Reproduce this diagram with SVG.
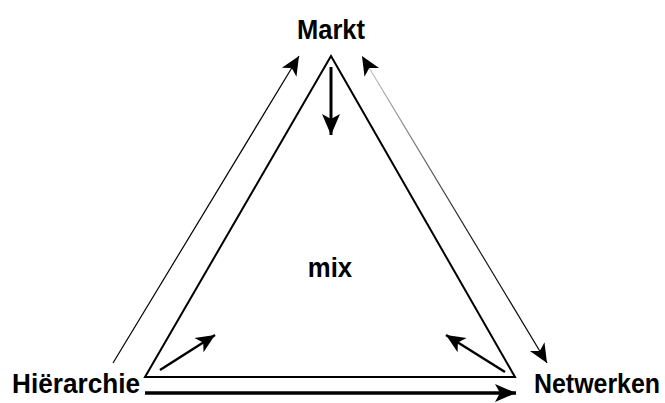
<svg xmlns="http://www.w3.org/2000/svg" width="665" height="403" viewBox="0 0 665 403">
<style>
.lbl{font-family:"Liberation Sans",Arial,sans-serif;font-weight:bold;font-size:28px;fill:#000}
.tri{fill:none;stroke:#000;stroke-width:2;stroke-linejoin:miter}
.c{fill:none;stroke:#000}
</style>
<defs>
<marker id="ah" markerUnits="userSpaceOnUse" markerWidth="26" markerHeight="22" viewBox="-23 -11 25 22" refX="0" refY="0" orient="auto-start-reverse">
<path d="M0,0 L-21,-9 L-16,0 L-21,9 Z" fill="#000"/>
</marker>
<marker id="ahs" markerUnits="userSpaceOnUse" markerWidth="26" markerHeight="22" viewBox="-23 -11 25 22" refX="0" refY="0" orient="auto-start-reverse">
<path d="M0,0 L-19,-8.5 L-14,0 L-19,8.5 Z" fill="#000"/>
</marker>
<linearGradient id="fade" gradientUnits="userSpaceOnUse" x1="362" y1="56" x2="547" y2="363">
<stop offset="0" stop-color="#d0d0d0"/>
<stop offset="0.55" stop-color="#222"/>
<stop offset="1" stop-color="#000"/>
</linearGradient>
</defs>
<g id="triangle">
<polygon class="tri" points="331,56 145,377 515,377"/>
</g>
<g id="markt"><text class="lbl" transform="translate(331 39) scale(0.91 1)" text-anchor="middle">Markt</text></g>
<g id="hierarchie"><text class="lbl" transform="translate(12 393) scale(0.935 1)">Hiërarchie</text></g>
<g id="netwerken"><text class="lbl" transform="translate(534 393) scale(0.89 1)">Netwerken</text></g>
<g id="mix"><text class="lbl" transform="translate(330 277) scale(0.92 1)" text-anchor="middle">mix</text></g>
<g id="connectors">
<line class="c" x1="113" y1="363" x2="299" y2="56" stroke-width="1.2" marker-end="url(#ahs)"/>
<line x1="362" y1="56" x2="547" y2="363" stroke="url(#fade)" stroke-width="1.2" marker-start="url(#ahs)" marker-end="url(#ahs)"/>
<line class="c" x1="331" y1="67" x2="331" y2="135" stroke-width="3" marker-end="url(#ah)"/>
<line class="c" x1="145" y1="393" x2="516" y2="393" stroke-width="3.5" marker-end="url(#ah)"/>
<line class="c" x1="160" y1="370" x2="215" y2="335" stroke-width="2.5" marker-end="url(#ahs)"/>
<line class="c" x1="505" y1="372" x2="446" y2="335" stroke-width="2.5" marker-end="url(#ahs)"/>
</g>
</svg>
